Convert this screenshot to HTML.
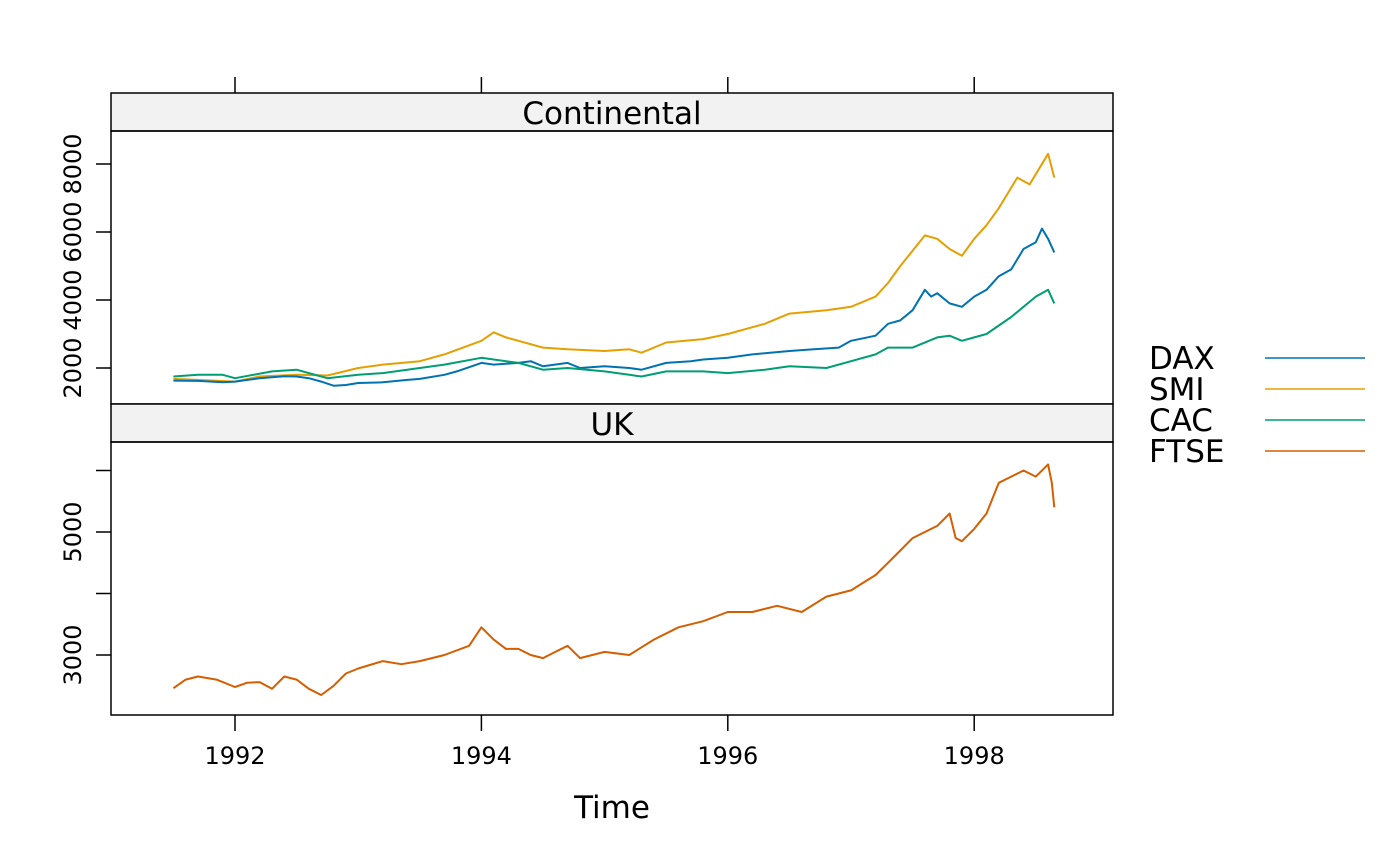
<!DOCTYPE html>
<html><head><meta charset="utf-8"><style>
html,body{margin:0;padding:0;background:#fff;}
svg{display:block;font-family:"DejaVu Sans","Liberation Sans",sans-serif;}
</style></head><body>
<svg id="chart" width="1400" height="866" viewBox="0 0 1400 866" xmlns="http://www.w3.org/2000/svg"></svg>
<script>
const xTicks = [1992, 1994, 1996, 1998];
const topTicks = [2000, 4000, 6000, 8000];
const bottomTicks = [3000, 4000, 5000, 6000];
const bottomTickLabels = [3000, 5000];
const seriesNames = ["DAX", "SMI", "CAC", "FTSE"];
const seriesColors = ["#0072B2", "#E69F00", "#009E73", "#D55E00"];

const daxT = [1991.5,1991.7,1991.9,1992.0,1992.2,1992.4,1992.5,1992.6,1992.7,1992.8,1992.9,1993.0,1993.2,1993.4,1993.5,1993.7,1993.8,1994.0,1994.1,1994.3,1994.4,1994.5,1994.7,1994.8,1995.0,1995.2,1995.3,1995.5,1995.7,1995.8,1996.0,1996.2,1996.5,1996.7,1996.9,1997.0,1997.2,1997.3,1997.4,1997.5,1997.6,1997.65,1997.7,1997.8,1997.9,1998.0,1998.1,1998.2,1998.3,1998.4,1998.5,1998.55,1998.6,1998.65];
const daxV = [1630,1620,1580,1600,1700,1760,1750,1700,1600,1480,1500,1560,1580,1650,1680,1800,1900,2150,2100,2150,2200,2050,2150,2000,2050,2000,1950,2150,2200,2250,2300,2400,2500,2550,2600,2800,2950,3300,3400,3700,4300,4100,4200,3900,3800,4100,4300,4700,4900,5500,5700,6100,5800,5400];

const smiT = [1991.5,1991.7,1992.0,1992.2,1992.5,1992.75,1993.0,1993.2,1993.5,1993.7,1994.0,1994.1,1994.2,1994.3,1994.5,1994.7,1995.0,1995.2,1995.3,1995.5,1995.8,1996.0,1996.2,1996.3,1996.5,1996.8,1997.0,1997.2,1997.3,1997.4,1997.6,1997.7,1997.8,1997.9,1998.0,1998.1,1998.2,1998.35,1998.45,1998.5,1998.6,1998.65];
const smiV = [1680,1650,1600,1750,1800,1780,2000,2100,2200,2400,2800,3050,2900,2800,2600,2550,2500,2550,2450,2750,2850,3000,3200,3300,3600,3700,3800,4100,4500,5000,5900,5800,5500,5300,5800,6200,6700,7600,7400,7700,8300,7600];

const cacT = [1991.5,1991.7,1991.9,1992.0,1992.3,1992.5,1992.6,1992.75,1993.0,1993.2,1993.5,1993.7,1994.0,1994.1,1994.3,1994.5,1994.7,1995.0,1995.2,1995.3,1995.5,1995.8,1996.0,1996.3,1996.5,1996.8,1997.0,1997.2,1997.3,1997.5,1997.7,1997.8,1997.9,1998.0,1998.1,1998.3,1998.5,1998.6,1998.65];
const cacV = [1750,1800,1800,1700,1900,1950,1850,1700,1800,1850,2000,2100,2300,2250,2150,1950,2000,1900,1800,1750,1900,1900,1850,1950,2050,2000,2200,2400,2600,2600,2900,2950,2800,2900,3000,3500,4100,4300,3900];

const ftseT = [1991.5,1991.6,1991.7,1991.85,1992.0,1992.1,1992.2,1992.3,1992.4,1992.5,1992.6,1992.7,1992.8,1992.9,1993.0,1993.2,1993.35,1993.5,1993.7,1993.9,1994.0,1994.1,1994.2,1994.3,1994.4,1994.5,1994.6,1994.7,1994.8,1995.0,1995.2,1995.4,1995.6,1995.8,1996.0,1996.2,1996.4,1996.6,1996.8,1997.0,1997.2,1997.3,1997.4,1997.5,1997.6,1997.7,1997.8,1997.85,1997.9,1998.0,1998.1,1998.2,1998.3,1998.4,1998.5,1998.6,1998.63,1998.65];
const ftseV = [2460,2600,2650,2600,2480,2550,2560,2450,2650,2600,2450,2350,2500,2700,2780,2900,2850,2900,3000,3150,3450,3250,3100,3100,3000,2950,3050,3150,2950,3050,3000,3250,3450,3550,3700,3700,3800,3700,3950,4050,4300,4500,4700,4900,5000,5100,5300,4900,4850,5050,5300,5800,5900,6000,5900,6100,5800,5400];

const svg = document.getElementById('chart');
const NS = 'http://www.w3.org/2000/svg';
function mk(tag, attrs, parent) {
  const e = document.createElementNS(NS, tag);
  for (const k in attrs) e.setAttribute(k, attrs[k]);
  (parent || svg).appendChild(e);
  return e;
}
const X0 = 111, X1 = 1113;
function xScale(t) { return 235 + (t - 1992) * 123.2; }
function yTop(v) { return 368 - (v - 2000) * 0.034; }
function yBot(v) { return 655 - (v - 3000) * 0.0615; }

const stripTop = mk('rect', {x:X0, y:93, width:X1-X0, height:38, fill:'#f2f2f2', stroke:'#000', 'stroke-width':1.5});


const stTxt = mk('text', {x:612, y:124, 'text-anchor':'middle', 'font-size':31}); stTxt.textContent = 'Continental';


const panelTop = mk('rect', {x:X0, y:131, width:X1-X0, height:273, fill:'none', stroke:'#000', 'stroke-width':1.5});


const stripBot = mk('rect', {x:X0, y:404, width:X1-X0, height:38, fill:'#f2f2f2', stroke:'#000', 'stroke-width':1.5});


const sbTxt = mk('text', {x:612, y:435, 'text-anchor':'middle', 'font-size':31}); sbTxt.textContent = 'UK';


const panelBot = mk('rect', {x:X0, y:442, width:X1-X0, height:273, fill:'none', stroke:'#000', 'stroke-width':1.5});



xTicks.forEach(t => {
  const x = xScale(t);
  const a = mk('line', {x1:x, x2:x, y1:77, y2:93, stroke:'#000', 'stroke-width':1.5});
  
  
  const b = mk('line', {x1:x, x2:x, y1:715, y2:731, stroke:'#000', 'stroke-width':1.5});
  
  
  const l = mk('text', {x:x, y:764, 'text-anchor':'middle', 'font-size':24}); l.textContent = t;
  
  
});
const xt = mk('text', {x:612, y:818, 'text-anchor':'middle', 'font-size':31}); xt.textContent = 'Time';



topTicks.forEach(v => {
  const y = yTop(v);
  const t = mk('line', {x1:96, x2:111, y1:y, y2:y, stroke:'#000', 'stroke-width':1.5});
  
  
  const l = mk('text', {x:81, y:y, 'text-anchor':'middle', 'font-size':24, transform:`rotate(-90 81 ${y})`}); l.textContent = v;
  
  
});
bottomTicks.forEach(v => {
  const y = yBot(v);
  const t = mk('line', {x1:96, x2:111, y1:y, y2:y, stroke:'#000', 'stroke-width':1.5});
  
  
});
bottomTickLabels.forEach(v => {
  const y = yBot(v);
  const l = mk('text', {x:81, y:y, 'text-anchor':'middle', 'font-size':24, transform:`rotate(-90 81 ${y})`}); l.textContent = v;
  
  
});

function drawLine(ts, vs, yf, color, name) {
  const pts = ts.map((t, i) => xScale(t).toFixed(1) + ',' + yf(vs[i]).toFixed(1)).join(' ');
  const p = mk('polyline', {points:pts, fill:'none', stroke:color, 'stroke-width':2, 'stroke-linejoin':'round'});
  
  
}
drawLine(smiT, smiV, yTop, seriesColors[1], 'line-smi');
drawLine(daxT, daxV, yTop, seriesColors[0], 'line-dax');
drawLine(cacT, cacV, yTop, seriesColors[2], 'line-cac');
drawLine(ftseT, ftseV, yBot, seriesColors[3], 'line-ftse');

const legendY = [358, 389, 420, 451];
seriesNames.forEach((n, i) => {
  const t = mk('text', {x:1149, y:legendY[i] + 11, 'font-size':31}); t.textContent = n;
  
  
  const l = mk('line', {x1:1265, x2:1365, y1:legendY[i], y2:legendY[i], stroke:seriesColors[i], 'stroke-width':1.5});
  
  
});
</script>
</body></html>
